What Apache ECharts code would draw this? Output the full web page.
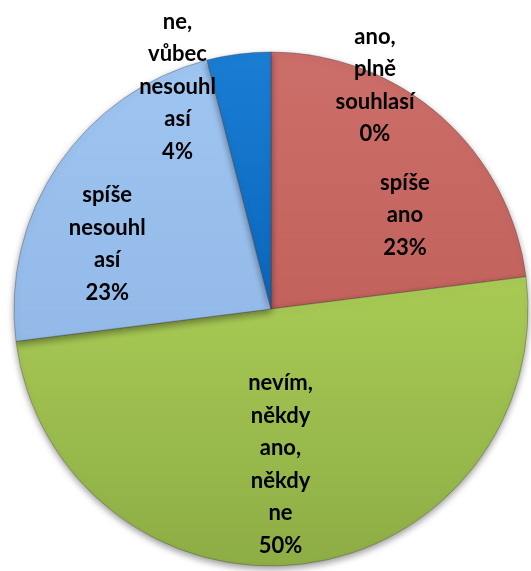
<!DOCTYPE html>
<html>
<head>
<meta charset="utf-8">
<script src="https://cdn.jsdelivr.net/npm/echarts@6/dist/echarts.min.js"></script>
<style>
  html, body { margin: 0; padding: 0; background: #ffffff; }
  #chart { width: 531px; height: 571px; }
</style>
</head>
<body>
<div id="chart"></div>
<script>
// Answer categories (line breaks as they wrap inside the slices)
const categories = [
  'ano,\nplně\nsouhlasí',
  'spíše\nano',
  'nevím,\nněkdy\nano,\nněkdy\nne',
  'spíše\nnesouhl\nasí',
  'ne,\nvůbec\nnesouhl\nasí'
];
// Share of answers, in percent
const shares = [0, 23, 50, 23, 4];
// Slice colours (top shade, bottom shade)
const sliceColors = [
  ['#d97a72', '#c4625c'],
  ['#cc6e69', '#c3625d'],
  ['#a9cb55', '#8dad45'],
  ['#9fc5f1', '#92b9e8'],
  ['#1a7ed4', '#0a66bb']
];
// Label nudges from the default inside position
const labelShift = [
  [104, -92], [47, 5], [-7, 25], [-55, 9], [-77, -92]
];

const chart = echarts.init(document.getElementById('chart'), null, { renderer: 'canvas' });

const data = categories.map((name, i) => ({
  name: name,
  value: shares[i],
  itemStyle: {
    color: {
      type: 'linear', x: 0, y: 0, x2: 0, y2: 1,
      colorStops: [
        { offset: 0, color: sliceColors[i][0] },
        { offset: 1, color: sliceColors[i][1] }
      ]
    }
  }
}));

chart.setOption({
  animation: false,
  series: [{
    type: 'pie',
    center: [271, 309],
    radius: 257,
    startAngle: 90,
    clockwise: true,
    minAngle: 0,
    avoidLabelOverlap: false,
    itemStyle: {
      borderColor: 'rgba(60,60,60,0.35)',
      borderWidth: 1,
      shadowColor: 'rgba(0,0,0,0.4)',
      shadowBlur: 7,
      shadowOffsetY: 3
    },
    label: {
      show: true,
      position: 'inside',
      formatter: '{b}\n{c}%',
      fontFamily: 'Lato',
      fontWeight: 'bold',
      fontSize: 22,
      lineHeight: 32.5,
      color: '#000000',
      align: 'center'
    },
    labelLine: { show: false },
    labelLayout: function (params) {
      const s = labelShift[params.dataIndex];
      return { dx: s[0], dy: s[1] };
    },
    emphasis: { disabled: true },
    data: data
  }]
});
</script>
</body>
</html>
